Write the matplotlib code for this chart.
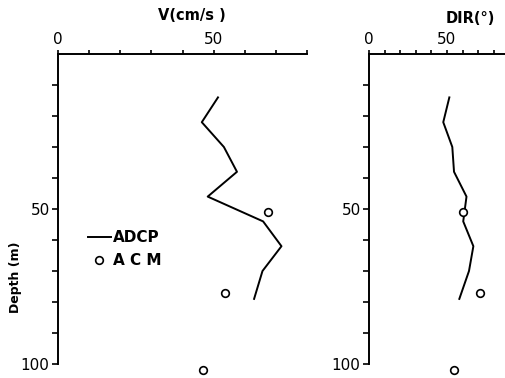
import numpy as np
import matplotlib
matplotlib.use("Agg")
from matplotlib import pyplot as plt
from matplotlib.ticker import FixedFormatter

# ADCP profile (bin depths in m)
adcp_depth = [14, 22, 30, 38, 46, 54, 62, 70, 79]
adcp_speed = [51.4, 46.2, 53.3, 57.5, 48.1, 65.9, 71.8, 65.7, 63.0]
adcp_dir = [51.5, 47.6, 53.4, 54.5, 62.5, 60.4, 66.9, 64.1, 57.9]

# current meter (ACM) values
acm_depth = [51, 77, 102]
acm_speed = [67.5, 53.7, 46.5]
acm_dir = [60.5, 71.2, 54.7]

plt.rcParams['font.family'] = ['DejaVu Sans']

fig = plt.figure(figsize=(5.06, 3.78), dpi=100)
ax1 = fig.add_axes([58 / 506, 14 / 378, 249 / 506, 310 / 378])
ax2 = fig.add_axes([369 / 506, 14 / 378, 140.4 / 506, 310 / 378])


def style_axis(ax, xmax, xlabel, xlabel_pos, ylab):
    ax.set_ylim(100, 0)
    ax.set_xlim(0, xmax)
    for s in ['right', 'bottom']:
        ax.spines[s].set_visible(False)
    for s in ['top', 'left']:
        ax.spines[s].set_linewidth(1.4)
    ax.xaxis.tick_top()
    xt = list(range(0, xmax + 1, 10))
    ax.set_xticks(xt)
    ax.xaxis.set_major_formatter(FixedFormatter(['0' if t == 0 else '50' if t == 50 else '' for t in xt]))
    yt = list(range(10, 101, 10))
    ax.set_yticks(yt)
    ax.yaxis.set_major_formatter(FixedFormatter(['50' if t == 50 else '100' if t == 100 else '' for t in yt]))
    ax.tick_params(axis='x', direction='out', length=3, width=1.2, pad=2, labelsize=11)
    ax.tick_params(axis='y', direction='out', length=4, width=1.2, pad=2, labelsize=11)
    ax.text(xlabel_pos, ylab, xlabel, ha='center', va='center', fontsize=10.5,
            fontweight='bold', clip_on=False)


style_axis(ax1, 80, 'V(cm/s )', 43, -12.5)
style_axis(ax2, 90, 'DIR(°)', 65, -11.5)

ax1.plot(adcp_speed, adcp_depth, color='black', lw=1.4, label='ADCP')
ax1.plot(acm_speed, acm_depth, ls='none', marker='o', mfc='white', mec='black',
         mew=1.2, ms=5.5, clip_on=False, label='A C M')
ax2.plot(adcp_dir, adcp_depth, color='black', lw=1.4)
ax2.plot(acm_dir, acm_depth, ls='none', marker='o', mfc='white', mec='black',
         mew=1.2, ms=5.5, clip_on=False)

ax1.text(-13.5, 72, 'Depth (m)', rotation=90, ha='center', va='center', fontsize=9,
         fontweight='bold', clip_on=False)

ax1.legend(loc='center left', bbox_to_anchor=(0.12, 0.37), frameon=False,
           handlelength=1.5, handletextpad=0.15, labelspacing=0.5,
           prop={'size': 11, 'weight': 'bold'},
           borderaxespad=0, borderpad=0)

plt.savefig('out.png', dpi=100)
